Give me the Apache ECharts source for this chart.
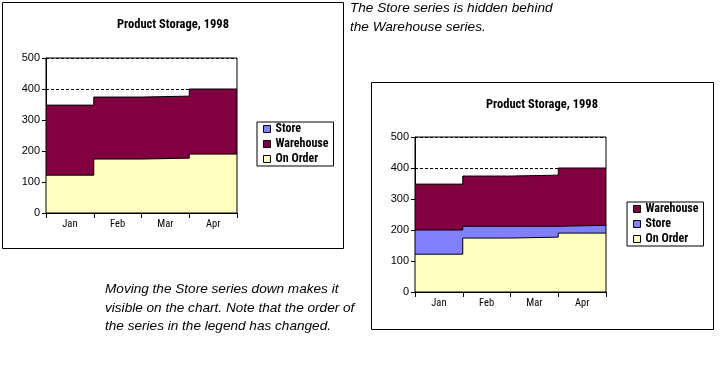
<!DOCTYPE html>
<html>
<head>
<meta charset="utf-8">
<script src="https://cdn.jsdelivr.net/npm/echarts@6/dist/echarts.min.js"></script>
<style>
html,body{margin:0;padding:0;background:#fff;}
#c{width:720px;height:366px;}
</style>
</head>
<body>
<div id="c"></div>
<script>
// ---- data ----
var categories = ['Jan', 'Feb', 'Mar', 'Apr'];
var onOrder = [122, 174, 177, 190];
var store = [200, 212, 212, 215];
var warehouse = [348, 374, 377, 400];
var yTicks = [0, 100, 200, 300, 400, 500];
var chartTitle = 'Product Storage, 1998';
var legendLeft = ['Store', 'Warehouse', 'On Order'];
var legendRight = ['Warehouse', 'Store', 'On Order'];
var noteTop = 'The Store series is hidden behind\nthe Warehouse series.';
var noteBottom = 'Moving the Store series down makes it\nvisible on the chart. Note that the order of\nthe series in the legend has changed.';

var colors = { 'On Order': '#FFFFC0', 'Store': '#8080FF', 'Warehouse': '#800040' };
var values = { 'On Order': onOrder, 'Store': store, 'Warehouse': warehouse };

function stepData(vals) {
  var d = vals.map(function (v, i) { return [i, v]; });
  d.push([vals.length, vals[vals.length - 1]]);
  return d;
}

// ---- font selection (pick a narrow face if installed, size to fit) ----
var ctx = document.createElement('canvas').getContext('2d');
function hasFont(name) {
  var t = 'abcdefghijklmnopqrstuvwxyzWM0123456789';
  var r = false;
  ['monospace', 'serif'].forEach(function (fb) {
    ctx.font = '40px ' + fb; var a = ctx.measureText(t).width;
    ctx.font = '40px "' + name + '", ' + fb; var b = ctx.measureText(t).width;
    if (Math.abs(a - b) > 0.5) r = true;
  });
  return r;
}
var narrowFace = 'Liberation Sans';
['Liberation Sans Narrow', 'Arial Narrow', 'Noto Sans Condensed', 'Roboto Condensed', 'Open Sans Condensed'].some(function (f) {
  if (hasFont(f)) { narrowFace = f; return true; } return false;
});
function fitSize(face, weight, text, target, maxSize) {
  ctx.font = weight + ' 20px "' + face + '"';
  var w = ctx.measureText(text).width;
  return Math.min(maxSize, Math.round(20 * target / w * 2) / 2);
}
var narrow = '"' + narrowFace + '", "Liberation Sans", Arial, sans-serif';
var plain = '"Liberation Sans", Arial, sans-serif';
var titleSize = fitSize(narrowFace, 'bold', chartTitle, 113, 14);
var legendSize = fitSize(narrowFace, 'bold', 'Warehouse', 52, 13);
var catSize = Math.max(10.5, fitSize(narrowFace, 'normal', 'Jan', 14.5, 12));

var grids = [
  { left: 46, top: 58, width: 191, height: 155 },
  { left: 415, top: 137, width: 191, height: 155 }
];
var titleCenters = [{ x: 173, y: 25 }, { x: 542, y: 105 }];
var legendPos = [{ left: 257, top: 122 }, { left: 627, top: 202 }];
var drawOrders = [['Store', 'Warehouse', 'On Order'], ['Warehouse', 'Store', 'On Order']];
var legendOrders = [legendLeft, legendRight];

var option = {
  animation: false,
  backgroundColor: '#fff',
  title: [],
  legend: [],
  grid: [],
  xAxis: [],
  yAxis: [],
  series: [],
  graphic: []
};

grids.forEach(function (g, gi) {
  option.grid.push({
    left: g.left, top: g.top, width: g.width, height: g.height, z: 30,
    show: true, borderColor: '#000', borderWidth: 1, backgroundColor: 'transparent'
  });
  option.title.push({
    text: chartTitle,
    left: titleCenters[gi].x, top: titleCenters[gi].y - titleSize * 0.6, textAlign: 'center',
    padding: 0,
    textStyle: { fontFamily: narrow, fontWeight: 'bold', fontSize: titleSize, lineHeight: titleSize * 1.2, color: '#000' }
  });
  option.legend.push({
    data: legendOrders[gi],
    orient: 'vertical',
    left: legendPos[gi].left, top: legendPos[gi].top,
    padding: [1, 5, 1, 6],
    borderColor: '#000', borderWidth: 1,
    backgroundColor: '#fff',
    icon: 'rect',
    itemWidth: 7, itemHeight: 7, itemGap: 3, itemTextGap: 5,
    itemStyle: { borderColor: '#000', borderWidth: 1 },
    textStyle: { fontFamily: narrow, fontWeight: 'bold', fontSize: legendSize, lineHeight: 12, color: '#000' },
    selectedMode: false
  });
  option.xAxis.push({
    type: 'category', gridIndex: gi, data: categories, boundaryGap: true,
    axisLine: { lineStyle: { color: '#000', width: 1 } },
    axisTick: { show: true, length: 5, lineStyle: { color: '#000' } },
    axisLabel: { color: '#000', fontFamily: narrow, fontSize: catSize, margin: 6 },
    splitLine: { show: false }
  });
  option.xAxis.push({
    type: 'value', gridIndex: gi, min: 0, max: categories.length, show: false
  });
  option.yAxis.push({
    type: 'value', gridIndex: gi, min: yTicks[0], max: yTicks[yTicks.length - 1], interval: 100,
    axisLine: { show: true, lineStyle: { color: '#000', width: 1 } },
    axisTick: { show: true, length: 4, lineStyle: { color: '#000' } },
    axisLabel: { color: '#000', fontFamily: plain, fontSize: 11, margin: 6 },
    splitLine: { show: true, lineStyle: { color: '#000', width: 1, type: [3, 2] } }
  });
  drawOrders[gi].forEach(function (name, si) {
    option.series.push({
      name: name,
      type: 'line',
      xAxisIndex: gi * 2 + 1,
      yAxisIndex: gi,
      z: 3 + si,
      step: 'end',
      showSymbol: false,
      symbol: 'none',
      color: colors[name],
      itemStyle: { color: colors[name] },
      lineStyle: { color: '#000', width: 1 },
      areaStyle: { color: colors[name], opacity: 1 },
      data: stepData(values[name]),
      silent: true
    });
  });
});

var noteFont = 'italic 13.6px "Liberation Sans", Arial, sans-serif';
option.graphic = [
  { type: 'rect', shape: { x: 2.5, y: 2.5, width: 341, height: 246 }, style: { fill: 'none', stroke: '#000', lineWidth: 1 }, z: -10, silent: true },
  { type: 'rect', shape: { x: 371.5, y: 82.5, width: 342, height: 247 }, style: { fill: 'none', stroke: '#000', lineWidth: 1 }, z: -10, silent: true },
  { type: 'text', x: 350, y: -1, style: { text: noteTop, font: noteFont, lineHeight: 18.5, fill: '#000', textVerticalAlign: 'top' }, silent: true },
  { type: 'text', x: 105, y: 280, style: { text: noteBottom, font: noteFont, lineHeight: 18.5, fill: '#000', textVerticalAlign: 'top' }, silent: true }
];

var chart = echarts.init(document.getElementById('c'), null, { renderer: 'canvas' });
chart.setOption(option);
</script>
</body>
</html>
